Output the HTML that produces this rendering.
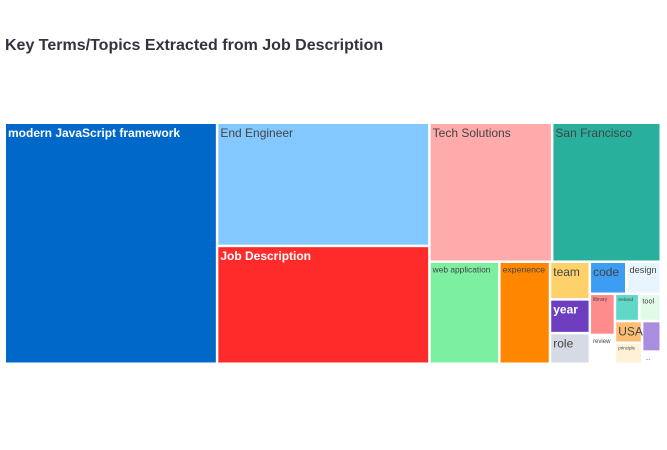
<!DOCTYPE html>
<html><head><meta charset="utf-8"><style>
html,body{margin:0;padding:0;background:#fff;width:667px;height:450px;overflow:hidden;font-family:"Liberation Sans",Arial,sans-serif}
</style></head><body>
<svg id="chart" width="667" height="450">
<text x="5" y="50" font-size="16" font-weight="bold" fill="#31333f">Key Terms/Topics Extracted from Job Description</text>
<g id="cells"></g>
</svg>
<script>
const labels=["modern JavaScript framework","End Engineer","Job Description","Tech Solutions","San Francisco","web application","experience","team","year","role","code","design","library","review","Ireland","tool","principle","...","USA","candidate"];
const values=[49500,25300,24200,16500,14600,6900,5000,1450,1300,1180,1130,1070,1000,700,640,570,550,220,570,550];
const colors=["#0068c9","#83c9ff","#ff2b2b","#ffabab","#29b09d","#7defa1","#ff8700","#ffd16a","#6d3fc0","#d5dae5","#3d9df3","#e8f4ff","#ff8c8c","#ffffff","#5fd8c8","#e2fbe9","#fff1d6","#ffffff","#ffbd73","#a98ee0"];
const whiteText=["#0068c9","#ff2b2b","#6d3fc0"];
const X0=5,Y0=123,W=656,H=241;

function worst(row,side){const s=row.reduce((a,b)=>a+b,0);const mx=Math.max(...row),mn=Math.min(...row);return Math.max(side*side*mx/(s*s),s*s/(side*side*mn));}
function layout(items,x,y,w,h,out){
  if(!items.length)return;
  const side=Math.min(w,h);
  let row=[items[0]];let i=1;
  while(i<items.length){
    const cur=worst(row.map(r=>r.a),side);
    const nxt=worst(row.concat([items[i]]).map(r=>r.a),side);
    if(nxt<=cur){row.push(items[i]);i++;}else break;
  }
  const rs=row.reduce((a,b)=>a+b.a,0);
  if(w>=h){
    const cw=rs/h;let yy=y;
    row.forEach(r=>{const rh=r.a/cw;out.push({i:r.i,x:x,y:yy,w:cw,h:rh});yy+=rh;});
    layout(items.slice(i),x+cw,y,w-cw,h,out);
  }else{
    const rh=rs/w;let xx=x;
    row.forEach(r=>{const rw=r.a/rh;out.push({i:r.i,x:xx,y:y,w:rw,h:rh});xx+=rw;});
    layout(items.slice(i),x,y+rh,w,h-rh,out);
  }
}
const tot=values.reduce((a,b)=>a+b,0);
const items=values.map((v,i)=>({i:i,a:v/tot*W*H})).sort((a,b)=>b.a-a.a);
const rects=[];layout(items,X0,Y0,W,H,rects);
const g=document.getElementById('cells');
const NS="http://www.w3.org/2000/svg";
rects.forEach(r=>{
  const gi=document.createElementNS(NS,'g');
  
  
  const rc=document.createElementNS(NS,'rect');
  rc.setAttribute('x',r.x+1);rc.setAttribute('y',r.y+1);
  rc.setAttribute('width',Math.max(0,r.w-2.5));rc.setAttribute('height',Math.max(0,r.h-2.5));
  rc.setAttribute('fill',colors[r.i]);
  gi.appendChild(rc);
  const lab=labels[r.i];
  let fs=Math.min(12,(r.w-7)/(lab.length*0.5),r.h-6);
  if(fs>=3){
    const t=document.createElementNS(NS,'text');
    t.setAttribute('x',r.x+3);t.setAttribute('y',r.y+2+fs);
    t.setAttribute('font-size',fs.toFixed(1));
    const wt=whiteText.includes(colors[r.i]);
    t.setAttribute('fill',wt?'#fff':'#444');
    if(wt)t.setAttribute('font-weight','bold');
    t.textContent=lab;
    gi.appendChild(t);
  }
  g.appendChild(gi);
});
</script>
</body></html>
